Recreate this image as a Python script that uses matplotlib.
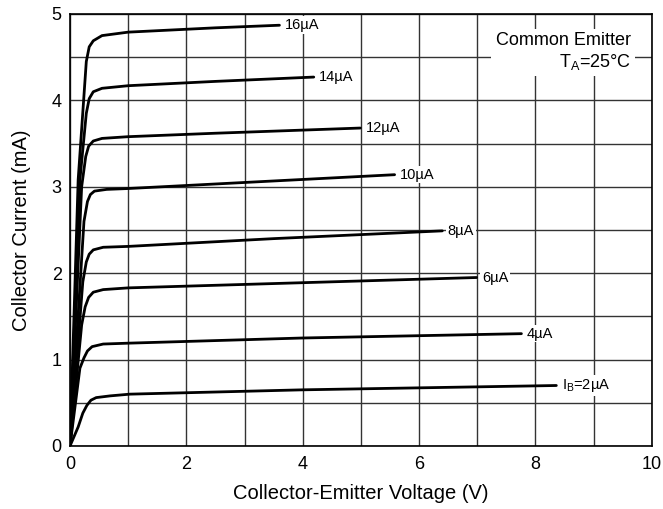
import numpy as np
import matplotlib.pyplot as plt

plt.rcParams['font.family'] = ['Liberation Sans', 'DejaVu Sans']
plt.rcParams['mathtext.fontset'] = 'custom'
plt.rcParams['mathtext.rm'] = 'Liberation Sans'
plt.rcParams['mathtext.it'] = 'Liberation Sans'

# base current labels
labels = ['16µA', '14µA', '12µA', '10µA', '8µA', '6µA', '4µA', 'I$_\\mathrm{B}$=2µA']

# collector-emitter voltage (V)
v_16 = [0, 0.14, 0.28, 0.33, 0.40, 0.55, 1.0, 2.5, 3.60]
v_14 = [0, 0.17, 0.28, 0.33, 0.40, 0.55, 1.0, 2.5, 4.19]
v_12 = [0, 0.20, 0.27, 0.32, 0.40, 0.55, 1.0, 2.5, 4.99]
v_10 = [0, 0.24, 0.30, 0.35, 0.42, 0.63, 1.0, 3.0, 5.58]
v_8 = [0, 0.22, 0.28, 0.33, 0.40, 0.57, 1.0, 3.5, 6.40]
v_6 = [0, 0.20, 0.26, 0.32, 0.40, 0.57, 1.0, 4.0, 6.99]
v_4 = [0, 0.17, 0.24, 0.30, 0.38, 0.57, 1.0, 4.0, 7.76]
v_2 = [0, 0.14, 0.22, 0.29, 0.36, 0.45, 0.69, 1.03, 4.0, 8.36]

# collector current (mA)
i_16 = [0, 3.08, 4.45, 4.62, 4.69, 4.75, 4.79, 4.84, 4.87]
i_14 = [0, 3.08, 3.85, 4.02, 4.10, 4.14, 4.17, 4.22, 4.27]
i_12 = [0, 3.00, 3.35, 3.47, 3.53, 3.56, 3.58, 3.62, 3.68]
i_10 = [0, 2.60, 2.83, 2.91, 2.95, 2.97, 2.98, 3.05, 3.14]
i_8 = [0, 1.90, 2.13, 2.22, 2.27, 2.30, 2.31, 2.40, 2.49]
i_6 = [0, 1.40, 1.61, 1.72, 1.78, 1.81, 1.83, 1.89, 1.95]
i_4 = [0, 0.90, 1.02, 1.10, 1.15, 1.18, 1.19, 1.25, 1.30]
i_2 = [0, 0.22, 0.38, 0.47, 0.53, 0.56, 0.58, 0.60, 0.65, 0.70]

volts = [v_16, v_14, v_12, v_10, v_8, v_6, v_4, v_2]
amps = [i_16, i_14, i_12, i_10, i_8, i_6, i_4, i_2]

fig = plt.figure(figsize=(6.63, 5.09), dpi=100)
ax = fig.add_axes([0.1056, 0.1238, 0.8774, 0.8487])

for v, i, lab in zip(volts, amps, labels):
    ax.plot(v, i, color='black', lw=2.0, solid_capstyle='round',
            solid_joinstyle='round', zorder=3)
    ax.text(v[-1] + 0.09, i[-1], lab, fontsize=10.5, ha='left', va='center',
            zorder=4,
            bbox=dict(boxstyle='square,pad=0.12', fc='white', ec='none'))

ax.text(9.64, 4.56, 'Common Emitter\nT$_\\mathrm{A}$=25°C', fontsize=13,
        ha='right', va='center', multialignment='right', linespacing=1.15,
        zorder=4, bbox=dict(boxstyle='square,pad=0.25', fc='white', ec='none'))

ax.set_xlim(0, 10)
ax.set_ylim(0, 5)
ax.set_xticks(np.arange(0, 11, 2))
ax.set_yticks(np.arange(0, 6, 1))
ax.set_xticks(np.arange(0, 11, 1), minor=True)
ax.set_yticks(np.arange(0, 5.5, 0.5), minor=True)
ax.grid(which='both', color='#333333', lw=1.0, zorder=1)
ax.set_axisbelow(True)
ax.tick_params(which='both', length=0, labelsize=13)
ax.tick_params(axis='x', pad=7)
ax.tick_params(axis='y', pad=6)
for s in ax.spines.values():
    s.set_color('black')
    s.set_linewidth(1.2)

ax.set_xlabel('Collector-Emitter Voltage (V)', fontsize=14.5, labelpad=8)
ax.set_ylabel('Collector Current (mA)', fontsize=14.5, labelpad=15)

fig.savefig('out.png', dpi=100)
